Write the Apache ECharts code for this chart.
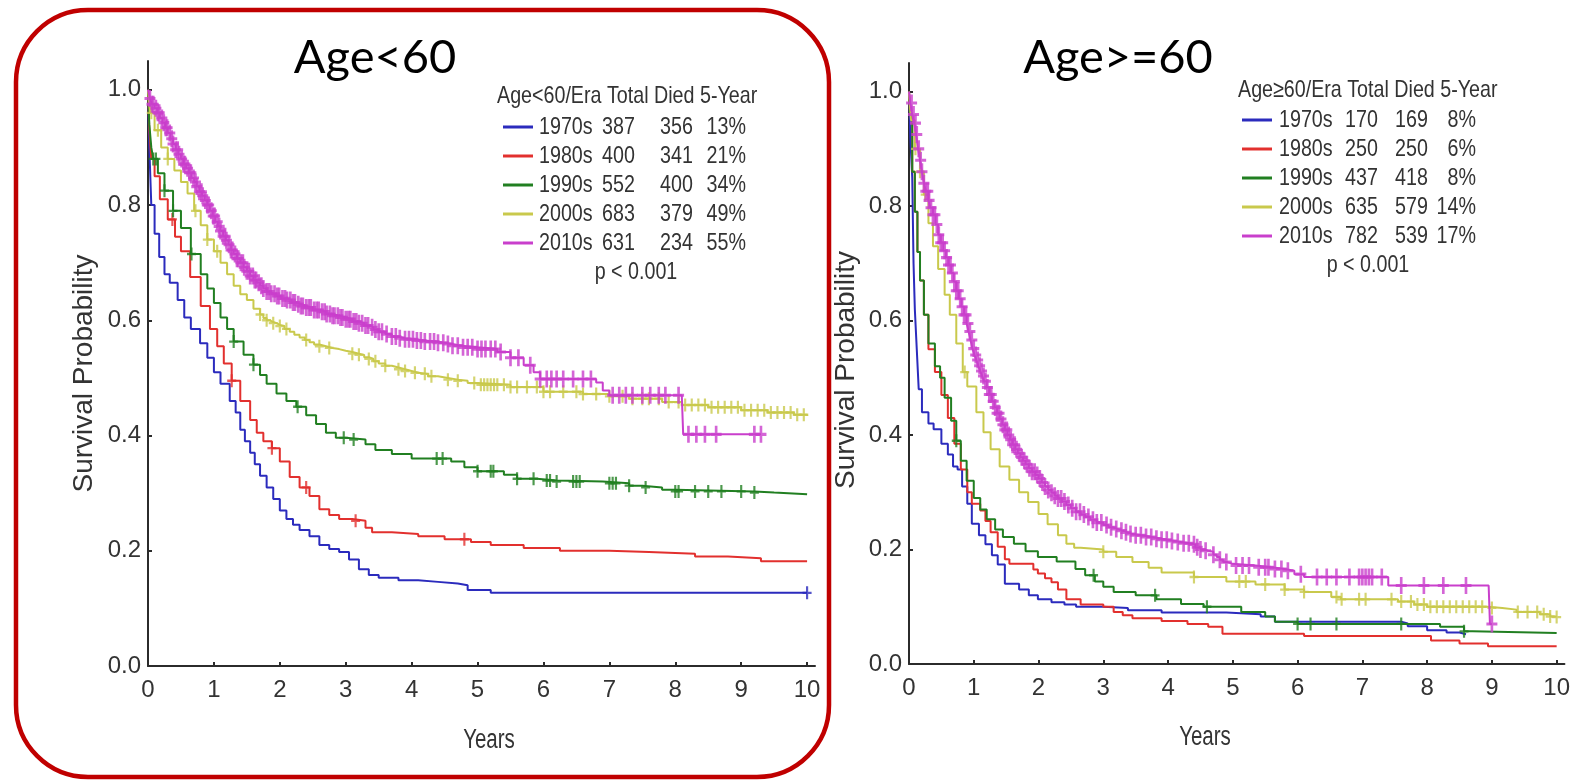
<!DOCTYPE html>
<html>
<head>
<meta charset="utf-8">
<script src="https://cdn.jsdelivr.net/npm/echarts@6/dist/echarts.min.js"></script>
<style>
  html, body { margin: 0; padding: 0; background: #fff; }
  #chart { width: 1573px; height: 784px; }
</style>
</head>
<body>
<div id="chart"></div>
<script>
// ---- Era groups and summary table values ----
const eras = ['1970s', '1980s', '1990s', '2000s', '2010s'];
const eraColors = ['#2b2bbd', '#e2302e', '#217f21', '#c9c94c', '#c93fcc'];

const youngTotal = [387, 400, 552, 683, 631];
const youngDied = [356, 341, 400, 379, 234];
const youngFiveYear = ['13%', '21%', '34%', '49%', '55%'];

const oldTotal = [170, 250, 437, 635, 782];
const oldDied = [169, 250, 418, 579, 539];
const oldFiveYear = ['8%', '6%', '8%', '14%', '17%'];

const xTicks = [0, 1, 2, 3, 4, 5, 6, 7, 8, 9, 10];
const yTicks = [0, 0.2, 0.4, 0.6, 0.8, 1.0];

// ---- Kaplan-Meier steps [years, survival], age < 60 ----
const young1970s = [[0,1],[0.02,0.9],[0.05,0.8],[0.1,0.75],[0.17,0.71],[0.25,0.68],[0.33,0.665],[0.45,0.635],[0.55,0.605],[0.65,0.585],[0.79,0.56],[0.9,0.535],[1.0,0.51],[1.1,0.49],[1.24,0.46],[1.33,0.44],[1.4,0.41],[1.47,0.39],[1.55,0.37],[1.62,0.35],[1.7,0.33],[1.8,0.31],[1.9,0.29],[2.0,0.27],[2.1,0.255],[2.2,0.245],[2.3,0.236],[2.45,0.225],[2.6,0.21],[2.75,0.203],[2.9,0.198],[3.05,0.185],[3.2,0.168],[3.35,0.158],[3.5,0.153],[3.8,0.149],[4.1,0.146],[4.4,0.143],[4.7,0.14],[4.85,0.132],[5.2,0.127],[10,0.127]];
const young1980s = [[0,1],[0.02,0.93],[0.05,0.88],[0.1,0.85],[0.18,0.81],[0.3,0.775],[0.41,0.745],[0.5,0.72],[0.64,0.675],[0.8,0.625],[0.94,0.585],[1.05,0.555],[1.15,0.525],[1.27,0.495],[1.4,0.46],[1.55,0.427],[1.65,0.405],[1.75,0.39],[1.88,0.378],[2.0,0.355],[2.15,0.328],[2.3,0.31],[2.45,0.295],[2.6,0.272],[2.75,0.262],[2.9,0.255],[3.1,0.252],[3.3,0.24],[3.4,0.232],[3.7,0.229],[4.1,0.225],[4.5,0.22],[4.9,0.215],[5.2,0.21],[5.7,0.205],[6.25,0.2],[7.0,0.198],[7.6,0.195],[8.3,0.19],[8.8,0.187],[9.3,0.182],[10,0.182]];
const young1990s = [[0,1],[0.02,0.94],[0.05,0.9],[0.08,0.88],[0.15,0.855],[0.25,0.825],[0.38,0.79],[0.5,0.76],[0.65,0.715],[0.8,0.68],[0.9,0.655],[1.0,0.63],[1.1,0.605],[1.2,0.585],[1.3,0.563],[1.45,0.54],[1.6,0.523],[1.7,0.505],[1.8,0.49],[1.95,0.473],[2.1,0.46],[2.25,0.45],[2.4,0.435],[2.55,0.42],[2.7,0.405],[2.85,0.396],[3.0,0.393],[3.3,0.385],[3.45,0.375],[3.7,0.368],[4.0,0.36],[4.6,0.355],[4.8,0.345],[5.0,0.338],[5.4,0.332],[5.6,0.325],[5.9,0.322],[6.2,0.32],[6.9,0.317],[7.3,0.313],[7.5,0.31],[7.8,0.306],[8.0,0.303],[9.2,0.301],[9.5,0.298],[10,0.297]];
const young2000s = [[0,1],[0.03,0.96],[0.1,0.93],[0.2,0.9],[0.3,0.88],[0.4,0.86],[0.5,0.84],[0.6,0.82],[0.7,0.79],[0.8,0.765],[0.9,0.74],[1.0,0.72],[1.1,0.7],[1.2,0.68],[1.3,0.66],[1.4,0.645],[1.5,0.635],[1.6,0.62],[1.7,0.61],[1.75,0.604],[1.8,0.6],[1.85,0.597],[1.9,0.595],[1.95,0.592],[2.0,0.59],[2.07,0.585],[2.15,0.58],[2.22,0.575],[2.3,0.57],[2.38,0.566],[2.45,0.562],[2.52,0.558],[2.6,0.555],[2.7,0.552],[2.8,0.55],[2.9,0.547],[3.0,0.545],[3.1,0.542],[3.2,0.54],[3.28,0.536],[3.35,0.533],[3.42,0.529],[3.5,0.525],[3.6,0.521],[3.7,0.518],[3.8,0.515],[3.9,0.512],[4.0,0.509],[4.1,0.507],[4.25,0.503],[4.4,0.5],[4.55,0.497],[4.7,0.495],[4.85,0.491],[5.0,0.488],[5.5,0.484],[6.0,0.476],[6.6,0.472],[7.0,0.468],[7.3,0.464],[7.8,0.458],[8.1,0.453],[8.5,0.449],[9.0,0.444],[9.4,0.44],[9.8,0.436],[10,0.434]];
const young2010s = [[0,1],[0.03,0.985],[0.06,0.975],[0.1,0.968],[0.14,0.96],[0.18,0.951],[0.22,0.943],[0.26,0.934],[0.3,0.925],[0.34,0.915],[0.38,0.906],[0.42,0.896],[0.46,0.888],[0.5,0.88],[0.54,0.871],[0.58,0.864],[0.62,0.856],[0.66,0.847],[0.7,0.84],[0.74,0.832],[0.78,0.823],[0.82,0.816],[0.86,0.808],[0.9,0.8],[0.94,0.79],[0.98,0.781],[1.02,0.771],[1.06,0.763],[1.1,0.755],[1.14,0.746],[1.18,0.739],[1.22,0.731],[1.26,0.722],[1.3,0.715],[1.35,0.707],[1.4,0.7],[1.45,0.692],[1.5,0.685],[1.55,0.677],[1.6,0.67],[1.65,0.665],[1.7,0.66],[1.75,0.655],[1.8,0.65],[1.87,0.646],[1.95,0.642],[2.02,0.638],[2.1,0.635],[2.18,0.631],[2.25,0.628],[2.32,0.625],[2.4,0.622],[2.5,0.618],[2.6,0.615],[2.7,0.611],[2.8,0.608],[2.9,0.605],[3.0,0.602],[3.1,0.598],[3.2,0.595],[3.28,0.591],[3.35,0.588],[3.42,0.584],[3.5,0.58],[3.6,0.576],[3.7,0.572],[3.8,0.569],[3.9,0.567],[4.05,0.565],[4.2,0.563],[4.35,0.561],[4.5,0.559],[4.62,0.556],[4.75,0.553],[5.0,0.55],[5.3,0.545],[5.5,0.535],[5.7,0.522],[5.85,0.51],[5.95,0.498],[6.8,0.492],[6.9,0.478],[7.0,0.47],[8.1,0.466],[8.12,0.402],[9.3,0.402]];

// ---- Censoring times (years), age < 60 ----
const youngCensor1970s = [10.0];
const youngCensor1980s = [0.37, 1.27, 1.88, 2.4, 3.15, 4.8];
const youngCensor1990s = [0.08, 0.12, 0.25, 0.38, 0.66, 1.3, 1.6, 2.27, 2.97, 3.12, 4.38, 4.47, 5.0, 5.2, 5.24, 5.6, 5.85, 6.05, 6.1, 6.2, 6.45, 6.5, 6.55, 7.0, 7.05, 7.1, 7.3, 7.55, 8.0, 8.05, 8.3, 8.5, 8.7, 9.0, 9.2];
const youngCensor2000s = [0.05, 0.15, 0.3, 0.72, 0.9, 1.05, 1.7, 1.8, 1.9, 2.0, 2.1, 2.4, 2.6, 2.75, 3.1, 3.2, 3.35, 3.45, 3.6, 3.8, 3.9, 4.05, 4.2, 4.3, 4.55, 4.7, 4.95, 5.05, 5.1, 5.15, 5.2, 5.25, 5.3, 5.4, 5.5, 5.6, 5.75, 5.9, 6.0, 6.1, 6.3, 6.5, 6.6, 6.8, 7.0, 7.2, 7.35, 7.5, 7.6, 7.75, 7.9, 8.05, 8.15, 8.25, 8.35, 8.45, 8.55, 8.65, 8.75, 8.85, 8.95, 9.05, 9.15, 9.25, 9.35, 9.45, 9.55, 9.65, 9.75, 9.85, 9.95];
const youngCensor2010s = [0.03, 0.06, 0.08, 0.12, 0.15, 0.17, 0.21, 0.24, 0.27, 0.29, 0.33, 0.36, 0.38, 0.42, 0.45, 0.47, 0.51, 0.54, 0.56, 0.6, 0.63, 0.65, 0.69, 0.72, 0.74, 0.78, 0.81, 0.83, 0.87, 0.9, 0.92, 0.96, 0.99, 1.01, 1.05, 1.08, 1.1, 1.14, 1.17, 1.19, 1.23, 1.26, 1.28, 1.32, 1.35, 1.37, 1.41, 1.44, 1.46, 1.5, 1.53, 1.55, 1.59, 1.62, 1.64, 1.68, 1.72, 1.75, 1.8, 1.84, 1.87, 1.92, 1.96, 1.99, 2.04, 2.08, 2.11, 2.16, 2.2, 2.23, 2.28, 2.32, 2.35, 2.4, 2.44, 2.47, 2.52, 2.56, 2.59, 2.64, 2.68, 2.71, 2.76, 2.8, 2.83, 2.88, 2.92, 2.95, 3.0, 3.04, 3.07, 3.12, 3.16, 3.2, 3.25, 3.3, 3.34, 3.4, 3.45, 3.5, 3.55, 3.62, 3.7, 3.76, 3.82, 3.9, 3.96, 4.02, 4.08, 4.14, 4.2, 4.28, 4.34, 4.4, 4.48, 4.55, 4.62, 4.7, 4.78, 4.85, 4.92, 5.0, 5.06, 5.12, 5.2, 5.27, 5.35, 5.5, 5.62, 5.8, 5.95, 6.05, 6.12, 6.2, 6.3, 6.45, 6.6, 6.72, 7.05, 7.15, 7.25, 7.35, 7.5, 7.62, 7.75, 7.85, 8.05, 8.2, 8.32, 8.45, 8.62, 9.2, 9.3];

// ---- Kaplan-Meier steps [years, survival], age >= 60 ----
const old1970s = [[0,1],[0.02,0.92],[0.05,0.85],[0.07,0.7],[0.09,0.62],[0.12,0.55],[0.15,0.48],[0.2,0.44],[0.3,0.42],[0.38,0.41],[0.5,0.385],[0.6,0.366],[0.68,0.345],[0.75,0.34],[0.82,0.31],[0.9,0.28],[0.97,0.245],[1.08,0.225],[1.18,0.209],[1.28,0.19],[1.37,0.174],[1.48,0.14],[1.7,0.13],[1.85,0.12],[1.99,0.113],[2.2,0.108],[2.4,0.104],[2.58,0.1],[3.0,0.098],[3.38,0.094],[3.9,0.09],[4.9,0.087],[5.43,0.083],[5.65,0.074],[7.6,0.071],[7.7,0.066],[8.0,0.059],[8.3,0.055],[8.5,0.052],[8.6,0.052]];
const old1980s = [[0,1],[0.015,0.96],[0.05,0.86],[0.09,0.79],[0.13,0.72],[0.17,0.67],[0.23,0.61],[0.3,0.55],[0.4,0.51],[0.5,0.47],[0.6,0.43],[0.7,0.385],[0.8,0.34],[0.9,0.3],[0.97,0.28],[1.1,0.268],[1.18,0.25],[1.26,0.23],[1.37,0.205],[1.48,0.183],[1.55,0.175],[1.84,0.175],[1.92,0.165],[1.99,0.158],[2.1,0.15],[2.2,0.143],[2.3,0.13],[2.43,0.113],[2.65,0.104],[3.0,0.1],[3.16,0.091],[3.3,0.085],[3.45,0.08],[3.9,0.075],[4.3,0.07],[4.62,0.065],[4.84,0.053],[5.7,0.053],[6.1,0.049],[7.85,0.049],[8.06,0.041],[8.5,0.036],[8.94,0.031],[10,0.031]];
const old1990s = [[0,1],[0.015,0.96],[0.05,0.86],[0.09,0.79],[0.13,0.72],[0.17,0.67],[0.23,0.61],[0.3,0.56],[0.4,0.52],[0.48,0.5],[0.55,0.465],[0.65,0.425],[0.73,0.39],[0.8,0.355],[0.89,0.32],[1.0,0.29],[1.1,0.27],[1.2,0.253],[1.33,0.235],[1.45,0.222],[1.62,0.21],[1.8,0.197],[1.99,0.187],[2.28,0.179],[2.57,0.166],[2.72,0.155],[2.87,0.144],[3.0,0.135],[3.16,0.126],[3.5,0.12],[3.82,0.113],[4.2,0.105],[4.55,0.1],[5.13,0.091],[5.5,0.083],[5.65,0.074],[6.0,0.07],[8.2,0.065],[8.57,0.057],[8.7,0.054],[10,0.054]];
const old2000s = [[0,1],[0.03,0.95],[0.09,0.9],[0.17,0.86],[0.23,0.82],[0.3,0.77],[0.37,0.73],[0.45,0.69],[0.55,0.645],[0.63,0.61],[0.73,0.56],[0.83,0.51],[0.9,0.485],[1.04,0.44],[1.15,0.405],[1.26,0.375],[1.4,0.345],[1.55,0.322],[1.7,0.3],[1.84,0.283],[2.0,0.262],[2.14,0.244],[2.3,0.225],[2.43,0.21],[2.55,0.203],[2.65,0.2],[3.0,0.196],[3.2,0.187],[3.45,0.178],[3.7,0.168],[3.9,0.16],[4.4,0.152],[4.9,0.144],[5.35,0.139],[5.8,0.13],[6.1,0.126],[6.52,0.117],[6.67,0.113],[7.55,0.109],[7.8,0.104],[8.0,0.1],[8.94,0.098],[9.16,0.095],[9.38,0.091],[9.74,0.087],[9.9,0.083],[10,0.082]];
const old2010s = [[0,1],[0.02,0.98],[0.05,0.96],[0.08,0.945],[0.11,0.925],[0.14,0.9],[0.17,0.88],[0.2,0.86],[0.23,0.84],[0.26,0.826],[0.3,0.81],[0.33,0.797],[0.37,0.785],[0.41,0.768],[0.45,0.75],[0.49,0.736],[0.53,0.722],[0.57,0.71],[0.61,0.697],[0.65,0.683],[0.69,0.668],[0.73,0.652],[0.77,0.638],[0.81,0.624],[0.85,0.61],[0.89,0.595],[0.92,0.581],[0.95,0.566],[0.98,0.551],[1.01,0.54],[1.04,0.531],[1.07,0.521],[1.1,0.512],[1.13,0.503],[1.16,0.494],[1.2,0.483],[1.24,0.471],[1.28,0.459],[1.32,0.448],[1.36,0.438],[1.4,0.428],[1.44,0.418],[1.48,0.409],[1.52,0.4],[1.56,0.392],[1.6,0.383],[1.64,0.375],[1.68,0.368],[1.72,0.361],[1.76,0.355],[1.8,0.349],[1.85,0.342],[1.9,0.336],[1.95,0.33],[2.0,0.324],[2.05,0.317],[2.1,0.31],[2.15,0.304],[2.2,0.299],[2.25,0.294],[2.3,0.289],[2.36,0.284],[2.43,0.278],[2.5,0.272],[2.58,0.266],[2.65,0.261],[2.72,0.257],[2.8,0.252],[2.9,0.247],[3.0,0.243],[3.08,0.239],[3.15,0.236],[3.22,0.233],[3.3,0.23],[3.38,0.227],[3.45,0.225],[3.6,0.222],[3.75,0.219],[3.9,0.217],[4.0,0.215],[4.1,0.213],[4.2,0.211],[4.33,0.209],[4.42,0.204],[4.5,0.2],[4.56,0.198],[4.62,0.196],[4.7,0.191],[4.75,0.187],[4.8,0.182],[4.85,0.178],[4.92,0.175],[5.0,0.172],[5.35,0.169],[5.6,0.166],[5.8,0.163],[5.95,0.157],[6.1,0.152],[7.35,0.152],[7.4,0.137],[8.95,0.137],[8.97,0.07],[9.0,0.07]];

// ---- Censoring times (years), age >= 60 ----
const oldCensor1970s = [];
const oldCensor1980s = [];
const oldCensor1990s = [0.73, 2.85, 3.8, 4.6, 6.0, 6.2, 6.6, 7.6, 8.57];
const oldCensor2000s = [0.1, 0.17, 0.25, 0.86, 3.0, 4.4, 5.1, 5.2, 5.5, 5.8, 6.1, 6.6, 6.68, 6.95, 7.05, 7.45, 7.6, 7.75, 7.85, 7.95, 8.05, 8.15, 8.25, 8.35, 8.45, 8.55, 8.65, 8.75, 8.85, 9.0, 9.4, 9.55, 9.7, 9.8, 9.9, 10.0];
const oldCensor2010s = [0.04, 0.07, 0.1, 0.12, 0.15, 0.18, 0.2, 0.23, 0.26, 0.29, 0.31, 0.34, 0.37, 0.4, 0.43, 0.46, 0.49, 0.52, 0.55, 0.58, 0.61, 0.64, 0.67, 0.7, 0.73, 0.76, 0.79, 0.82, 0.85, 0.88, 0.91, 0.94, 0.97, 1.0, 1.03, 1.06, 1.09, 1.12, 1.15, 1.18, 1.21, 1.24, 1.27, 1.3, 1.33, 1.36, 1.39, 1.42, 1.45, 1.48, 1.51, 1.54, 1.57, 1.6, 1.63, 1.66, 1.7, 1.74, 1.78, 1.82, 1.86, 1.9, 1.94, 1.98, 2.02, 2.06, 2.1, 2.15, 2.2, 2.25, 2.3, 2.35, 2.4, 2.46, 2.52, 2.58, 2.64, 2.7, 2.77, 2.84, 2.9, 2.97, 3.05, 3.12, 3.2, 3.28, 3.35, 3.42, 3.5, 3.58, 3.66, 3.74, 3.82, 3.9, 3.98, 4.06, 4.15, 4.24, 4.32, 4.4, 4.45, 4.5, 4.58, 4.7, 4.8, 4.9, 5.05, 5.15, 5.25, 5.4, 5.5, 5.55, 5.65, 5.75, 5.85, 6.05, 6.3, 6.45, 6.6, 6.8, 6.95, 7.0, 7.05, 7.1, 7.15, 7.3, 7.6, 7.95, 8.25, 8.6, 9.0];

const panels = [
  {
    key: 'young', title: 'Age<60', header: 'Age<60/Era Total Died 5-Year',
    curves: [young1970s, young1980s, young1990s, young2000s, young2010s],
    censors: [youngCensor1970s, youngCensor1980s, youngCensor1990s, youngCensor2000s, youngCensor2010s],
    total: youngTotal, died: youngDied, five: youngFiveYear
  },
  {
    key: 'old', title: 'Age>=60', header: 'Age\u226560/Era Total Died 5-Year',
    curves: [old1970s, old1980s, old1990s, old2000s, old2010s],
    censors: [oldCensor1970s, oldCensor1980s, oldCensor1990s, oldCensor2000s, oldCensor2010s],
    total: oldTotal, died: oldDied, five: oldFiveYear
  }
];

// survival value of a step curve at time t
function survivalAt(curve, t) {
  let v = curve[0][1];
  for (const p of curve) { if (p[0] <= t) v = p[1]; else break; }
  return v;
}

const sans = "'Liberation Sans', Arial, sans-serif";
const inkColor = '#333';
const crossPath = 'path://M3.8,0 L6.2,0 L6.2,4.1 L10,4.1 L10,5.9 L6.2,5.9 L6.2,10 L3.8,10 L3.8,5.9 L0,5.9 L0,4.1 L3.8,4.1 Z';
// censor mark size per era (the 2010s cohort has the heaviest marks)
const crossSizes = [[9, 13], [9, 13], [9, 13], [9, 13], [11, 17]];

// plot boxes of the two panels
const gridBoxes = [
  { left: 148, top: 61, width: 667, height: 605 },
  { left: 909, top: 63, width: 656, height: 601 }
];
const yNameGaps = [50, 49];
const yNamePads = [[0, 20, 0, 0], [0, 13, 0, 0]];

// key table layout: line sample, column anchors and row centres
const keyLayout = [
  { lineX: [503, 533], nameX: 539, totalX: 602, diedX: 660, fiveRight: 746, rows: [127, 156, 185, 214, 243], headerX: 497, headerY: 96, pX: 636, pY: 272 },
  { lineX: [1242, 1272], nameX: 1279, totalX: 1345, diedX: 1395, fiveRight: 1476, rows: [120, 149, 178, 207, 236], headerX: 1238, headerY: 90, pX: 1368, pY: 265 }
];
const yearsLabelPos = [[489, 741], [1205, 738]];
const narrowScale = 0.82;

function condensedText(x, y, text, align, size) {
  return {
    type: 'text', x: x, y: y, scaleX: narrowScale, silent: true,
    style: { text: text, font: size + 'px ' + sans, fill: inkColor, textAlign: align, textVerticalAlign: 'middle' }
  };
}

const series = [];
const graphics = [];

panels.forEach((pn, pi) => {
  eras.forEach((era, ei) => {
    const nm = pn.key + '-' + era;
    series.push({
      name: nm, type: 'line', step: 'end',
      xAxisIndex: pi, yAxisIndex: pi,
      data: pn.curves[ei], showSymbol: false,
      lineStyle: { width: 2, color: eraColors[ei] },
      itemStyle: { color: eraColors[ei] },
      z: 2 + ei, silent: true
    });
    series.push({
      name: nm + '-censored', type: 'scatter',
      xAxisIndex: pi, yAxisIndex: pi,
      data: pn.censors[ei].map(t => [t, survivalAt(pn.curves[ei], t)]),
      symbol: crossPath, symbolSize: crossSizes[ei],
      itemStyle: { color: eraColors[ei] },
      z: 2 + ei, silent: true
    });
  });

  // key table
  const k = keyLayout[pi];
  graphics.push(condensedText(k.headerX, k.headerY, pn.header, 'left', 24));
  eras.forEach((era, ei) => {
    const y = k.rows[ei];
    graphics.push({
      type: 'line', silent: true,
      shape: { x1: k.lineX[0], y1: y, x2: k.lineX[1], y2: y },
      style: { stroke: eraColors[ei], lineWidth: 3 }
    });
    graphics.push(condensedText(k.nameX, y, era, 'left', 24));
    graphics.push(condensedText(k.totalX, y, String(pn.total[ei]), 'left', 24));
    graphics.push(condensedText(k.diedX, y, String(pn.died[ei]), 'left', 24));
    graphics.push(condensedText(k.fiveRight, y, pn.five[ei], 'right', 24));
  });
  graphics.push(condensedText(k.pX, k.pY, 'p < 0.001', 'center', 24));

  // panel heading and x-axis title
  graphics.push({
    type: 'text', x: [375, 1118][pi], y: 58, silent: true,
    style: { text: pn.title, font: "47px Lato, 'Open Sans', sans-serif", fill: '#000', textAlign: 'center', textVerticalAlign: 'middle' }
  });
  const yp = yearsLabelPos[pi];
  graphics.push({
    type: 'text', x: yp[0], y: yp[1], scaleX: 0.76, silent: true,
    style: { text: 'Years', font: '27px ' + sans, fill: inkColor, textAlign: 'center', textVerticalAlign: 'middle' }
  });
});

// rounded frame around the first panel
graphics.unshift({
  type: 'rect', silent: true, z: 0,
  shape: { x: 16, y: 10, width: 813, height: 767, r: 72 },
  style: { fill: 'none', stroke: '#c00000', lineWidth: 4.5 }
});

const tickLine = { color: '#2b2b2b', width: 2 };

const option = {
  animation: false,
  backgroundColor: '#fff',
  grid: gridBoxes.map(g => Object.assign({ containLabel: false }, g)),
  xAxis: gridBoxes.map((g, i) => ({
    type: 'value', gridIndex: i, min: 0, max: 10.12,
    axisLine: { show: true, onZero: false, lineStyle: tickLine },
    axisTick: { show: true, inside: true, length: 4, customValues: xTicks, lineStyle: tickLine },
    axisLabel: { customValues: xTicks, fontFamily: sans, fontSize: 24, color: inkColor, margin: 12 },
    splitLine: { show: false }
  })),
  yAxis: gridBoxes.map((g, i) => ({
    type: 'value', gridIndex: i, min: 0, max: 1.05,
    axisLine: { show: true, onZero: false, lineStyle: tickLine },
    axisTick: { show: true, inside: true, length: 4, customValues: yTicks, lineStyle: tickLine },
    axisLabel: { customValues: yTicks, formatter: v => v.toFixed(1), fontFamily: sans, fontSize: 24, color: inkColor, margin: 7 },
    splitLine: { show: false },
    name: 'Survival Probability', nameLocation: 'middle', nameGap: yNameGaps[i],
    nameTextStyle: { fontFamily: sans, fontSize: 28, color: inkColor, padding: yNamePads[i] }
  })),
  graphic: graphics,
  series: series
};

const chart = echarts.init(document.getElementById('chart'), null, { renderer: 'canvas' });
chart.setOption(option);
</script>
</body>
</html>
